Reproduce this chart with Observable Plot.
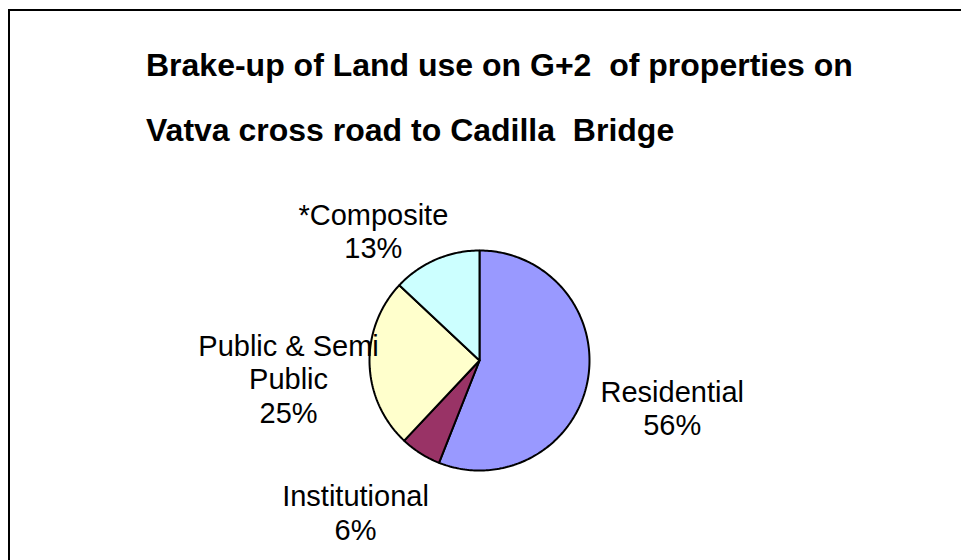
<!DOCTYPE html>
<html>
<head>
<meta charset="utf-8">
<script src="https://cdn.jsdelivr.net/npm/d3@7"></script>
<script src="https://cdn.jsdelivr.net/npm/@observablehq/plot@0.6"></script>
<style>
  html, body { margin: 0; padding: 0; background: #fff; overflow: hidden; width: 961px; height: 560px; }
  #frame {
    position: absolute; left: 8px; top: 9px; width: 1000px; height: 700px;
    border: 2px solid #000; background: #fff;
  }
  #title {
    padding: 22px 0 0 136px; margin: 0;
    font: bold 32px "Liberation Sans", Arial, sans-serif;
    line-height: 65px; white-space: pre; color: #000;
  }
  #chart svg { display: block; }
</style>
</head>
<body>
<div id="frame">
  <div id="title"></div>
  <div id="chart"></div>
</div>
<script>
// ---- data ----
const titleLines = ["Brake-up of Land use on G+2  of properties on", "Vatva cross road to Cadilla  Bridge"];
const categories = ["Residential", "Institutional", "Public & Semi Public", "*Composite"];
const labelNames = ["Residential", "Institutional", "Public & Semi\nPublic", "*Composite"];
const shares = [56, 6, 25, 13];
const sliceColors = ["#9999FF", "#993366", "#FFFFCC", "#CCFFFF"];

// ---- layout (label anchors in pie-radius units relative to centre) ----
const labelAnchor = {
  "Residential": [1.752, -0.43],
  "Institutional": [-1.127, -1.38],
  "Public & Semi Public": [-1.736, -0.165],
  "*Composite": [-0.965, 1.18]
};

document.getElementById("title").textContent = titleLines.join("\n");

const total = d3.sum(shares);
const arcs = d3.pie().sort(null).value(d => d)(shares);

// slice outlines built from the pie angles
const slices = arcs.map((a, i) => {
  const pts = [{x: 0, y: 0}];
  const n = Math.max(2, Math.ceil((a.endAngle - a.startAngle) / (Math.PI / 180)));
  for (let k = 0; k <= n; k++) {
    const t = a.startAngle + (a.endAngle - a.startAngle) * k / n;
    pts.push({x: Math.sin(t), y: Math.cos(t)});
  }
  pts.push({x: 0, y: 0});
  return {cat: categories[i], color: sliceColors[i], pts};
});

const labels = categories.map((c, i) => ({
  x: labelAnchor[c][0],
  y: labelAnchor[c][1],
  text: labelNames[i] + "\n" + Math.round(shares[i] / total * 100) + "%"
}));

const W = 951, H = 397, cx = 469, cy = 197, R = 110;

const plot = Plot.plot({
  width: W,
  height: H,
  margin: 0,
  x: {domain: [-1, 1], range: [cx - R, cx + R], axis: null},
  y: {domain: [-1, 1], range: [cy + R, cy - R], axis: null},
  style: {fontFamily: '"Liberation Sans", Arial, sans-serif', background: "#fff", overflow: "visible"},
  marks: [
    ...slices.map(s => Plot.line(s.pts, {
      x: "x", y: "y", fill: s.color, stroke: "#000", strokeWidth: 2,
      curve: "linear", strokeLinejoin: "miter"
    })),
    Plot.text(labels, {
      x: "x", y: "y", text: "text", fontSize: 29, lineHeight: 1.155,
      fill: "#000", textAnchor: "middle", fontFamily: '"Liberation Sans", Arial, sans-serif'
    })
  ]
});
document.getElementById("chart").appendChild(plot);
</script>
</body>
</html>
